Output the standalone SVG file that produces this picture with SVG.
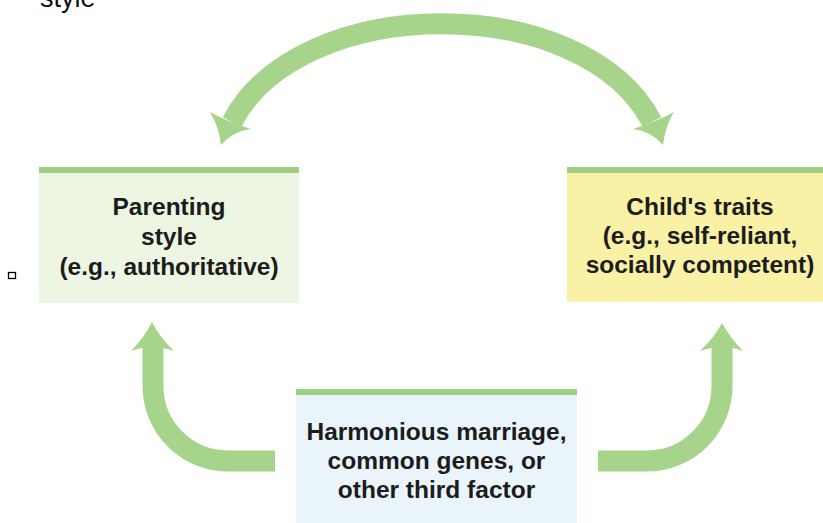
<svg xmlns="http://www.w3.org/2000/svg" width="823" height="523" viewBox="0 0 823 523">
<style>
.lbl{font-family:"Liberation Sans",Arial,sans-serif;font-weight:bold;font-size:24.5px;fill:#1c1c1c;text-anchor:middle}
.bar{fill:#9fcf80}
.shaft{fill:none;stroke:#a5d48a;stroke-width:21}
.head{fill:#a5d48a}
</style>
<rect width="823" height="523" fill="#ffffff"/>
<text x="40" y="7" style="font-family:'Liberation Sans',Arial,sans-serif;font-size:27px;fill:#111">style</text>
<rect x="8.5" y="272.5" width="7" height="6" fill="#fff" stroke="#000" stroke-width="1.3"/>
<g id="connectors">
  <path class="shaft" d="M232 122 C300 -9, 584 -9, 652 122"/>
  <path class="head" d="M221 145 Q219 127 210 112 Q228 122 251 129 Q233 131 221 145 Z"/>
  <path class="head" d="M663 145 Q665 127 674 112 Q656 122 633 129 Q651 131 663 145 Z"/>
  <path class="shaft" d="M275 461 L228 461 A75 75 0 0 1 153 386 L153 345"/>
  <path class="head" d="M152 322 Q160 338 174 351 Q162 347 152 347 Q142 347 131 351 Q144 338 152 322 Z"/>
  <path class="shaft" d="M598 461 L647 461 A75 75 0 0 0 722 386 L722 345"/>
  <path class="head" d="M722 323 Q730 338 743 351 Q732 347 722 347 Q712 347 700 351 Q714 338 722 323 Z"/>
</g>
<g id="parenting">
  <rect x="39" y="167" width="260" height="136" fill="#edf6e2"/>
  <rect class="bar" x="39" y="167" width="260" height="6"/>
  <text class="lbl" x="169" y="215">Parenting</text>
  <text class="lbl" x="169" y="245">style</text>
  <text class="lbl" x="169" y="275">(e.g., authoritative)</text>
</g>
<g id="child">
  <rect x="567" y="167" width="256" height="135" fill="#f8f1a6"/>
  <rect class="bar" x="567" y="167" width="256" height="6"/>
  <text class="lbl" x="700" y="215">Child's traits</text>
  <text class="lbl" x="700" y="244">(e.g., self-reliant,</text>
  <text class="lbl" x="700" y="273">socially competent)</text>
</g>
<g id="third">
  <rect x="296" y="390" width="281" height="133" fill="#eaf5fb"/>
  <rect class="bar" x="296" y="389" width="281" height="6"/>
  <text class="lbl" x="436.5" y="440">Harmonious marriage,</text>
  <text class="lbl" x="436.5" y="469">common genes, or</text>
  <text class="lbl" x="436.5" y="498">other third factor</text>
</g>
</svg>
